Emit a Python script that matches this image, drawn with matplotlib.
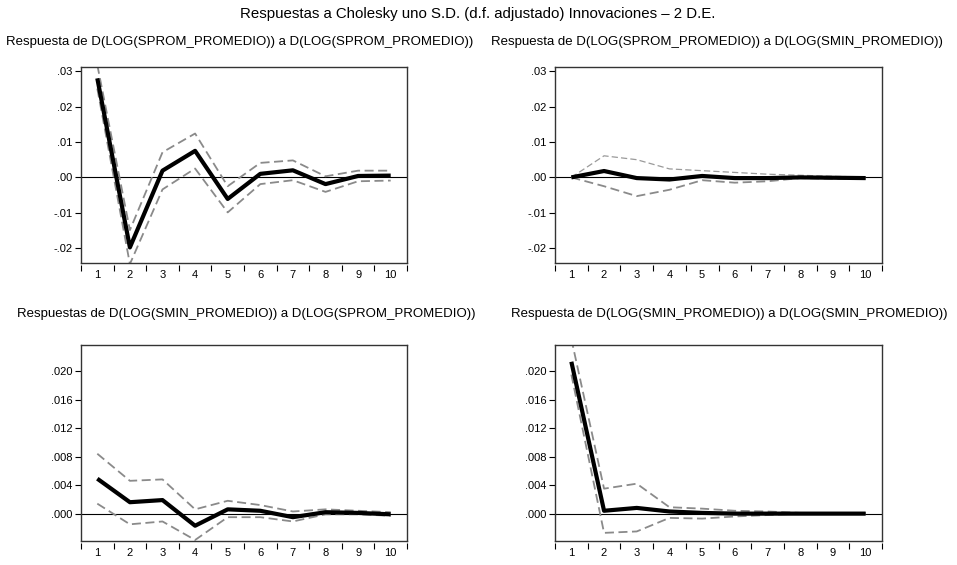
import matplotlib
matplotlib.use("Agg")
import matplotlib.pyplot as plt
import numpy as np

plt.rcParams["font.family"] = ["Liberation Sans", "DejaVu Sans"]

periods = list(range(1, 11))

# respuesta de SPROM a SPROM
r11 = [0.0280, -0.0198, 0.0019, 0.0075, -0.0061, 0.0010, 0.0020, -0.0019, 0.0004, 0.0005]
r11_up = [0.0318, -0.0149, 0.0071, 0.0124, -0.0025, 0.0041, 0.0048, 0.0003, 0.0019, 0.0019]
r11_lo = [0.0251, -0.0245, -0.0034, 0.0025, -0.0099, -0.0019, -0.0008, -0.0041, -0.0011, -0.0009]

# respuesta de SPROM a SMIN
r12 = [0.0, 0.0018, -0.0002, -0.0006, 0.0004, -0.0002, -0.0002, 0.0000, -0.0001, -0.0002]
r12_up = [0.0, 0.0061, 0.0050, 0.0024, 0.0019, 0.0014, 0.0009, 0.0006, 0.0003, 0.0001]
r12_lo = [0.0, -0.0025, -0.0053, -0.0035, -0.0008, -0.0015, -0.0011, -0.0002, -0.0004, -0.0004]

# respuesta de SMIN a SPROM
r21 = [0.0049, 0.0016, 0.0019, -0.0017, 0.0006, 0.0004, -0.0005, 0.0002, 0.0001, -0.0001]
r21_up = [0.0084, 0.0046, 0.0048, 0.0006, 0.0018, 0.0012, 0.0003, 0.0006, 0.0004, 0.0002]
r21_lo = [0.0014, -0.0015, -0.0011, -0.0037, -0.0005, -0.0005, -0.0011, -0.0001, -0.0001, -0.0003]

# respuesta de SMIN a SMIN
r22 = [0.0213, 0.0004, 0.0008, 0.0003, 0.0001, 0.0000, 0.0000, 0.0000, 0.0000, 0.0000]
r22_up = [0.0245, 0.0035, 0.0042, 0.0009, 0.0007, 0.0004, 0.0003, 0.0001, 0.0001, 0.0001]
r22_lo = [0.0195, -0.0027, -0.0025, -0.0006, -0.0007, -0.0004, -0.0002, 0.0000, 0.0000, 0.0000]

ticks_top = [0.03, 0.02, 0.01, 0.0, -0.01, -0.02]
labels_top = [".03", ".02", ".01", ".00", "-.01", "-.02"]
ticks_bot = [0.020, 0.016, 0.012, 0.008, 0.004, 0.0]
labels_bot = [".020", ".016", ".012", ".008", ".004", ".000"]

main_title = "Respuestas a Cholesky uno S.D. (d.f. adjustado) Innovaciones \u2013 2 D.E."
titles = [
    "Respuesta de D(LOG(SPROM_PROMEDIO)) a D(LOG(SPROM_PROMEDIO))",
    "Respuesta de D(LOG(SPROM_PROMEDIO)) a D(LOG(SMIN_PROMEDIO))",
    "Respuestas de D(LOG(SMIN_PROMEDIO)) a D(LOG(SPROM_PROMEDIO))",
    "Respuesta de D(LOG(SMIN_PROMEDIO)) a D(LOG(SMIN_PROMEDIO))",
]

fig = plt.figure(figsize=(9.57, 5.65), dpi=100)
fig.patch.set_facecolor("white")

W, H = 957, 565


def px_axes(x0, y0, x1, y1):
    return fig.add_axes([x0 / W, 1 - y1 / H, (x1 - x0) / W, (y1 - y0) / H])


panels = [
    (px_axes(81, 67, 407, 263), r11, r11_up, r11_lo, ticks_top, labels_top, (-0.0242, 0.0312), False),
    (px_axes(555, 67, 882, 263), r12, r12_up, r12_lo, ticks_top, labels_top, (-0.0242, 0.0312), True),
    (px_axes(81, 345, 407, 541), r21, r21_up, r21_lo, ticks_bot, labels_bot, (-0.00384, 0.02365), False),
    (px_axes(555, 345, 882, 541), r22, r22_up, r22_lo, ticks_bot, labels_bot, (-0.00384, 0.02365), False),
]

for (ax, mid, up, lo, yt, yl, ylim, thin_up), title, tx, ty in zip(
        panels, titles, [240, 717, 246, 729], [42, 42, 314, 314]):
    ax.axhline(0, color="black", lw=0.8, zorder=1)
    ax.plot(periods, up, color="#8a8a8a" if not thin_up else "#9a9a9a",
            lw=1.3 if not thin_up else 0.9, dashes=(5, 2.5), zorder=2)
    ax.plot(periods, lo, color="#8a8a8a", lw=1.3, dashes=(5, 2.5), zorder=2)
    ax.plot(periods, mid, color="black", lw=3.0, zorder=3, solid_capstyle="butt")

    ax.set_xlim(0.5, 10.5)
    ax.set_ylim(*ylim)
    ax.set_yticks(yt)
    ax.set_yticklabels(yl)
    ax.tick_params(axis="y", direction="out", length=4, width=0.8, labelsize=8, pad=2)
    ax.set_xticks([])
    for sp in ax.spines.values():
        sp.set_color("#333333")
        sp.set_linewidth(1.0)

    # eje x separado del marco, marcas en los limites de cada periodo
    sec = ax.secondary_xaxis(-0.012)
    sec.spines["bottom"].set_visible(False)
    sec.set_xticks(np.arange(0.5, 11, 1.0))
    sec.set_xticklabels([])
    sec.set_xticks(periods, minor=True)
    sec.set_xticklabels([str(p) for p in periods], minor=True)
    sec.tick_params(axis="x", which="major", direction="out", length=4, width=0.8)
    sec.tick_params(axis="x", which="minor", length=0, labelsize=8, pad=3)

    fig.text(tx / W, 1 - ty / H, title, ha="center", va="center", fontsize=9.5)

fig.text(478 / W, 1 - 14 / H, main_title, ha="center", va="center", fontsize=10.8)

fig.savefig("out.png", dpi=100, facecolor="white")
